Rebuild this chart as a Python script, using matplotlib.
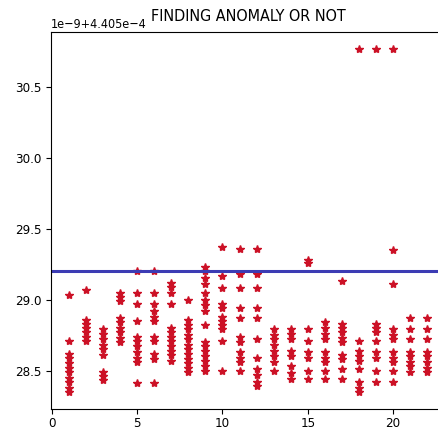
import numpy as np
import matplotlib
matplotlib.use('Agg')
import matplotlib.pyplot as plt

plt.rcParams['font.family'] = 'DejaVu Sans'
plt.rcParams['font.stretch'] = 'condensed'

# readings per x position, in units of 1e-9 above 4.405e-4
base = 4.405e-4
unit = 1e-9
threshold = 29.2

positions = list(range(1, 23))
readings = [
	[29.03, 28.71, 28.62, 28.59, 28.55, 28.52, 28.49, 28.45, 28.42, 28.38, 28.35],
	[29.07, 28.86, 28.83, 28.80, 28.77, 28.74, 28.71],
	[28.79, 28.76, 28.72, 28.68, 28.65, 28.61, 28.49, 28.46, 28.43],
	[29.05, 29.02, 28.99, 28.87, 28.84, 28.80, 28.77, 28.73, 28.70],
	[29.20, 29.05, 28.97, 28.85, 28.74, 28.71, 28.67, 28.63, 28.59, 28.56, 28.41],
	[29.20, 29.05, 28.97, 28.92, 28.88, 28.85, 28.74, 28.71, 28.62, 28.58, 28.41],
	[29.12, 29.09, 29.05, 28.97, 28.80, 28.77, 28.74, 28.71, 28.67, 28.64, 28.61, 28.57],
	[29.00, 28.86, 28.82, 28.79, 28.75, 28.72, 28.68, 28.65, 28.62, 28.58, 28.55, 28.52, 28.49],
	[29.23, 29.20, 29.15, 29.11, 29.05, 29.00, 28.96, 28.92, 28.82, 28.70, 28.67, 28.64, 28.60, 28.57, 28.53, 28.50],
	[29.37, 29.17, 29.08, 28.97, 28.94, 28.88, 28.85, 28.82, 28.79, 28.71, 28.50],
	[29.36, 29.18, 29.08, 28.94, 28.87, 28.74, 28.70, 28.63, 28.59, 28.56, 28.50],
	[29.36, 29.18, 29.08, 28.94, 28.87, 28.72, 28.59, 28.51, 28.47, 28.42, 28.39],
	[28.79, 28.75, 28.72, 28.68, 28.64, 28.60, 28.56, 28.50],
	[28.79, 28.76, 28.72, 28.64, 28.60, 28.53, 28.48, 28.44],
	[29.28, 29.26, 28.79, 28.71, 28.63, 28.59, 28.50, 28.44],
	[28.84, 28.80, 28.76, 28.72, 28.63, 28.59, 28.56, 28.50, 28.44],
	[29.13, 28.83, 28.80, 28.77, 28.73, 28.70, 28.61, 28.58, 28.51, 28.44],
	[30.77, 28.71, 28.64, 28.60, 28.57, 28.51, 28.42, 28.38, 28.35],
	[30.77, 28.83, 28.80, 28.77, 28.71, 28.63, 28.59, 28.50, 28.42],
	[30.77, 29.35, 29.11, 28.79, 28.75, 28.72, 28.63, 28.59, 28.56, 28.50, 28.42],
	[28.87, 28.79, 28.72, 28.63, 28.60, 28.56, 28.53, 28.49],
	[28.87, 28.79, 28.72, 28.63, 28.60, 28.56, 28.52, 28.49],
]

x = []
y = []
for p, vals in zip(positions, readings):
	for v in vals:
		x.append(p)
		y.append(base + v * unit)
x = np.array(x)
y = np.array(y)

fig = plt.figure(figsize=(4.39, 4.43), dpi=100)
# right edge runs past the figure, like the cropped original
ax = fig.add_axes([0.116, 0.077, 0.898, 0.851])
ax.plot(x, y, '*', color='#cc1126', markersize=6)
ax.axhline(base + threshold * unit, color='#3c3cb4', linewidth=2.2)
ax.tick_params(labelsize=9.5)
ax.tick_params(axis='x', pad=2.5)
ax.yaxis.get_offset_text().set_fontsize(9)
ax.set_title('FINDING ANOMALY OR NOT', fontsize=11.5, pad=8)
fig.savefig('out.png', dpi=100)
